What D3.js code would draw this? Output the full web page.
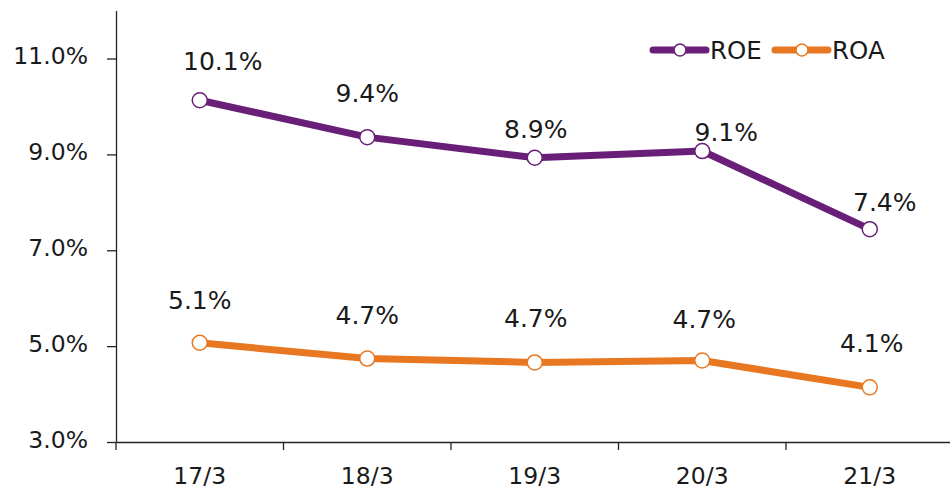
<!DOCTYPE html>
<html>
<head>
<meta charset="utf-8">
<script src="https://cdn.jsdelivr.net/npm/d3@7"></script>
<style>
  body { margin: 0; background: #fff; }
  text { font-family: Verdana, "DejaVu Sans", sans-serif; fill: #1a1a1a; }
  .axis path, .axis line { stroke: #222; stroke-width: 1.3; }
</style>
</head>
<body>
<div id="chart"></div>
<script>
// data
const categories = ["17/3", "18/3", "19/3", "20/3", "21/3"];
const roe = [10.13, 9.36, 8.93, 9.07, 7.44];
const roa = [5.07, 4.74, 4.66, 4.70, 4.14];
const yTicks = [3, 5, 7, 9, 11];

const W = 950, H = 490;
const margin = { top: 10.6, right: -3.5, bottom: 48, left: 116 };

const svg = d3.select("#chart").append("svg")
  .attr("width", W)
  .attr("height", H);

const x = d3.scaleBand()
  .domain(categories)
  .range([margin.left, W - margin.right])
  .paddingInner(0).paddingOuter(0);

const y = d3.scaleLinear()
  .domain([3, 12])
  .range([H - margin.bottom, margin.top]);

const cx = d => x(d) + x.bandwidth() / 2;

// y axis
svg.append("g")
  .attr("class", "axis")
  .attr("transform", `translate(${margin.left},0)`)
  .call(d3.axisLeft(y).tickValues(yTicks).tickSize(9).tickSizeOuter(0).tickPadding(19)
    .tickFormat(d => d.toFixed(1) + "%"))
  .call(g => g.selectAll("text").attr("font-size", 23.5).attr("dy", "0.22em").style("font-family", null));

// x axis
const xg = svg.append("g")
  .attr("class", "axis")
  .attr("transform", `translate(0,${y(3)})`)
  .call(d3.axisBottom(x).tickSize(0).tickSizeOuter(0).tickPadding(25));
xg.selectAll("text").attr("font-size", 23.5).attr("dy", "0.71em").style("font-family", null);
// boundary ticks between categories
xg.selectAll(".btick")
  .data(categories)
  .enter().append("line")
  .attr("class", "btick")
  .attr("x1", d => x(d)).attr("x2", d => x(d))
  .attr("y1", 0).attr("y2", 8);

const series = [
  { name: "ROE", values: roe, color: "#691f78" },
  { name: "ROA", values: roa, color: "#e87722" }
];

// label nudges (dx, dy from point to baseline)
const nudge = {
  ROE: [[23, -30], [0, -35], [1, -20], [24, -10], [15, -18]],
  ROA: [[0, -34], [0, -35], [1, -35], [2, -33], [2, -35]]
};

const line = d3.line()
  .x((d, i) => cx(categories[i]))
  .y(d => y(d));

series.forEach(s => {
  svg.append("path")
    .datum(s.values)
    .attr("d", line)
    .attr("fill", "none")
    .attr("stroke", s.color)
    .attr("stroke-width", 7)
    .attr("stroke-linejoin", "round");

  svg.selectAll(".pt-" + s.name)
    .data(s.values)
    .enter().append("circle")
    .attr("cx", (d, i) => cx(categories[i]))
    .attr("cy", d => y(d))
    .attr("r", 7.5)
    .attr("fill", "#fff")
    .attr("stroke", s.color)
    .attr("stroke-width", 1.5);

  svg.selectAll(".lbl-" + s.name)
    .data(s.values)
    .enter().append("text")
    .attr("x", (d, i) => cx(categories[i]) + nudge[s.name][i][0])
    .attr("y", (d, i) => y(d) + nudge[s.name][i][1])
    .attr("text-anchor", "middle")
    .attr("font-size", 25)
    .text(d => d.toFixed(1) + "%");
});

// legend
const legend = svg.append("g").attr("transform", "translate(653,50)");
series.forEach((s, i) => {
  const g = legend.append("g").attr("transform", `translate(${i * 122},0)`);
  g.append("line")
    .attr("x1", 0).attr("x2", 53)
    .attr("stroke", s.color).attr("stroke-width", 7).attr("stroke-linecap", "round");
  g.append("circle")
    .attr("cx", 27).attr("r", 6)
    .attr("fill", "#fff").attr("stroke", s.color).attr("stroke-width", 1.5);
  g.append("text")
    .attr("x", 57).attr("y", 9)
    .attr("font-size", 24.5)
    .text(s.name);
});
</script>
</body>
</html>
